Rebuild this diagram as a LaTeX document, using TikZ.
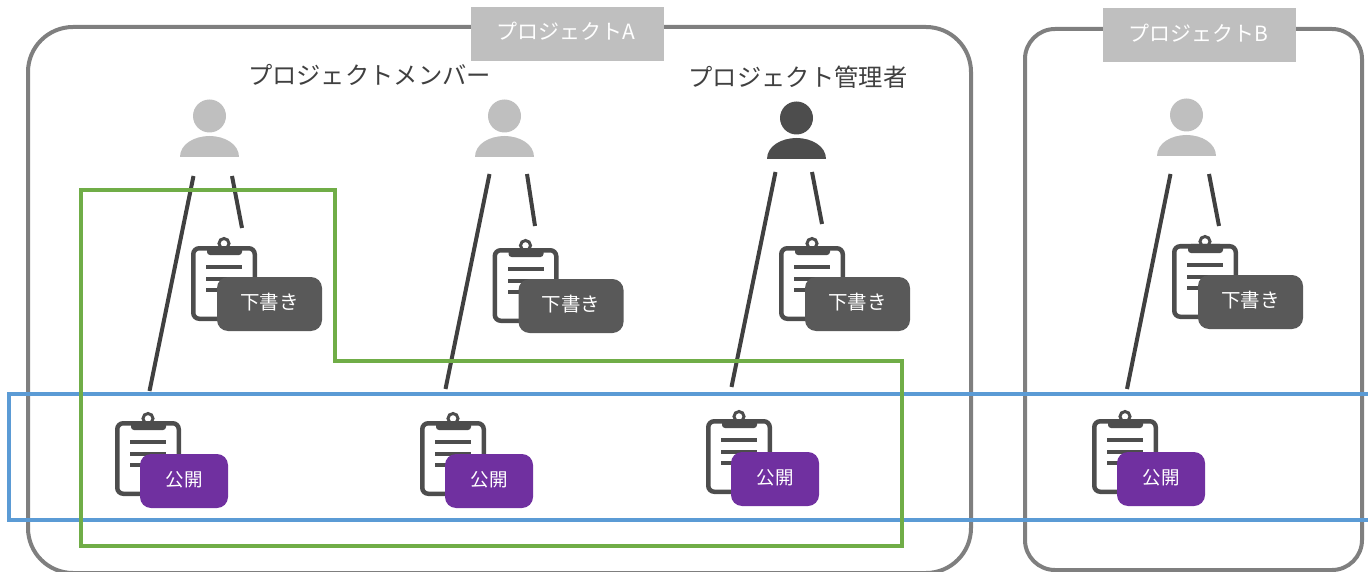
\documentclass[tikz,border=0pt]{standalone}
\usepackage{fontspec}
\setmainfont{Noto Sans CJK JP}
\definecolor{framegray}{HTML}{7F7F7F}
\definecolor{labelgray}{HTML}{BFBFBF}
\definecolor{icondark}{HTML}{4D4D4D}
\definecolor{linkdark}{HTML}{404040}
\definecolor{drafttone}{HTML}{595959}
\definecolor{publictone}{HTML}{7030A0}
\definecolor{scopegreen}{HTML}{70AD47}
\definecolor{scopeblue}{HTML}{5B9BD5}
\tikzstyle{project frame}=[draw=framegray, line width=4pt]
\tikzstyle{project label}=[fill=labelgray, minimum width=193pt, minimum height=54pt, inner sep=0pt]
\tikzstyle{project text}=[text=white, inner sep=0pt, font=\fontsize{21pt}{21pt}\selectfont]
\tikzstyle{role title}=[text=linkdark, inner sep=0pt, font=\fontsize{24.3pt}{25pt}\selectfont]
\tikzstyle{draft tag}=[fill=drafttone, rounded corners=11pt, minimum width=105pt, minimum height=54pt, inner sep=0pt]
\tikzstyle{draft text}=[text=white, inner sep=0pt, font=\fontsize{19.5pt}{20pt}\selectfont]
\tikzstyle{public tag}=[fill=publictone, rounded corners=11pt, minimum width=88pt, minimum height=54pt, inner sep=0pt]
\tikzstyle{public text}=[text=white, inner sep=0pt, font=\fontsize{18.5pt}{19pt}\selectfont]
\tikzstyle{link}=[draw=linkdark, line width=4pt]
\tikzstyle{scope line}=[line width=4pt, line join=miter]
\tikzset{
  personicon/.pic={
    \fill (0,-41) circle (16.5);
    \fill (-29.5,0) .. controls (-29.5,-13) and (-15,-21) .. (0,-21) .. controls (15,-21) and (29.5,-13) .. (29.5,0) -- cycle;
  },
  clipicon/.pic={
    \draw[icondark, line width=4.5pt, fill=white, rounded corners=6pt] (2.25,2.25) rectangle (63.75,72.75);
    \draw[icondark, line width=3pt] (33,-2.5) circle (5);
    \fill[icondark, rounded corners=3pt] (16,0) rectangle (51,9);
    \foreach \ly in {21,33,44} {
      \fill[icondark] (15,\ly-2) rectangle (51,\ly+2);
    }
  }
}
\begin{document}
\begin{tikzpicture}[x=1pt, y=-1pt]
  \useasboundingbox (0,0) rectangle (1368,572);
  % project frames
  \draw[project frame, rounded corners=45pt] (28,27) rectangle (971,573);
  \draw[project frame, rounded corners=30pt] (1025,29) rectangle (1362,570);
  \node[project label] (labelA) at (567.5,34) {};
  \node[project label] (labelB) at (1199.5,35.5) {};
  \node[project text] (textA) at (565.5,31.5) {プロジェクトA};
  \node[project text] (textB) at (1198,33) {プロジェクトB};
  \node[role title] (members) at (369.5,75) {プロジェクトメンバー};
  \node[role title] (manager) at (798,77) {プロジェクト管理者};
  % people
  \foreach \n/\x/\y/\c in {m1/209.5/157/labelgray, m2/504.5/157/labelgray, a/796.5/159/icondark, b/1186.5/156/labelgray} {
    \pic[fill=\c] at (\x,\y) {personicon};
  }
  % clipboards, draft then public
  \foreach \n/\x/\y in {m1/191/246, m2/492.5/248, a/779/246, b/1172/244} {
    \pic at (\x,\y) {clipicon};
    \node[draft tag] (draft\n) at (\x+78.5,\y+58) {};
    \node[draft text] (drafttext\n) at (\x+78.5,\y+56.5) {下書き};
  }
  \foreach \n/\x/\y in {m1/115/421, m2/420/421, a/706/419, b/1092/419} {
    \pic at (\x,\y) {clipicon};
    \node[public tag] (public\n) at (\x+69,\y+60) {};
    \node[public text] (publictext\n) at (\x+69,\y+58.5) {公開};
  }
  % links
  \foreach \n/\xa/\ya/\xb/\yb/\xc/\yc/\xd/\yd in {
      m1/193.5/176/149.5/391/232/176/242/228,
      m2/489.5/174/445.5/389/527/174/535/226,
      a/775.5/172/731.5/387/812/172/822/224,
      b/1170.5/174/1127/389/1209/174/1219/226} {
    \coordinate (pubfrom\n) at (\xa,\ya);
    \coordinate (pubto\n) at (\xb,\yb);
    \coordinate (draftfrom\n) at (\xc,\yc);
    \coordinate (draftto\n) at (\xd,\yd);
    \draw[link] (pubfrom\n) -- (pubto\n);
    \draw[link] (draftfrom\n) -- (draftto\n);
  }
  % scopes
  \draw[scope line, scopeblue] (1368,394) -- (9,394) -- (9,520) -- (1368,520);
  \draw[scope line, scopegreen] (80.5,190.5) -- (334.5,190.5) -- (334.5,361) -- (902,361) -- (902,546) -- (80.5,546) -- cycle;
\end{tikzpicture}
\end{document}
